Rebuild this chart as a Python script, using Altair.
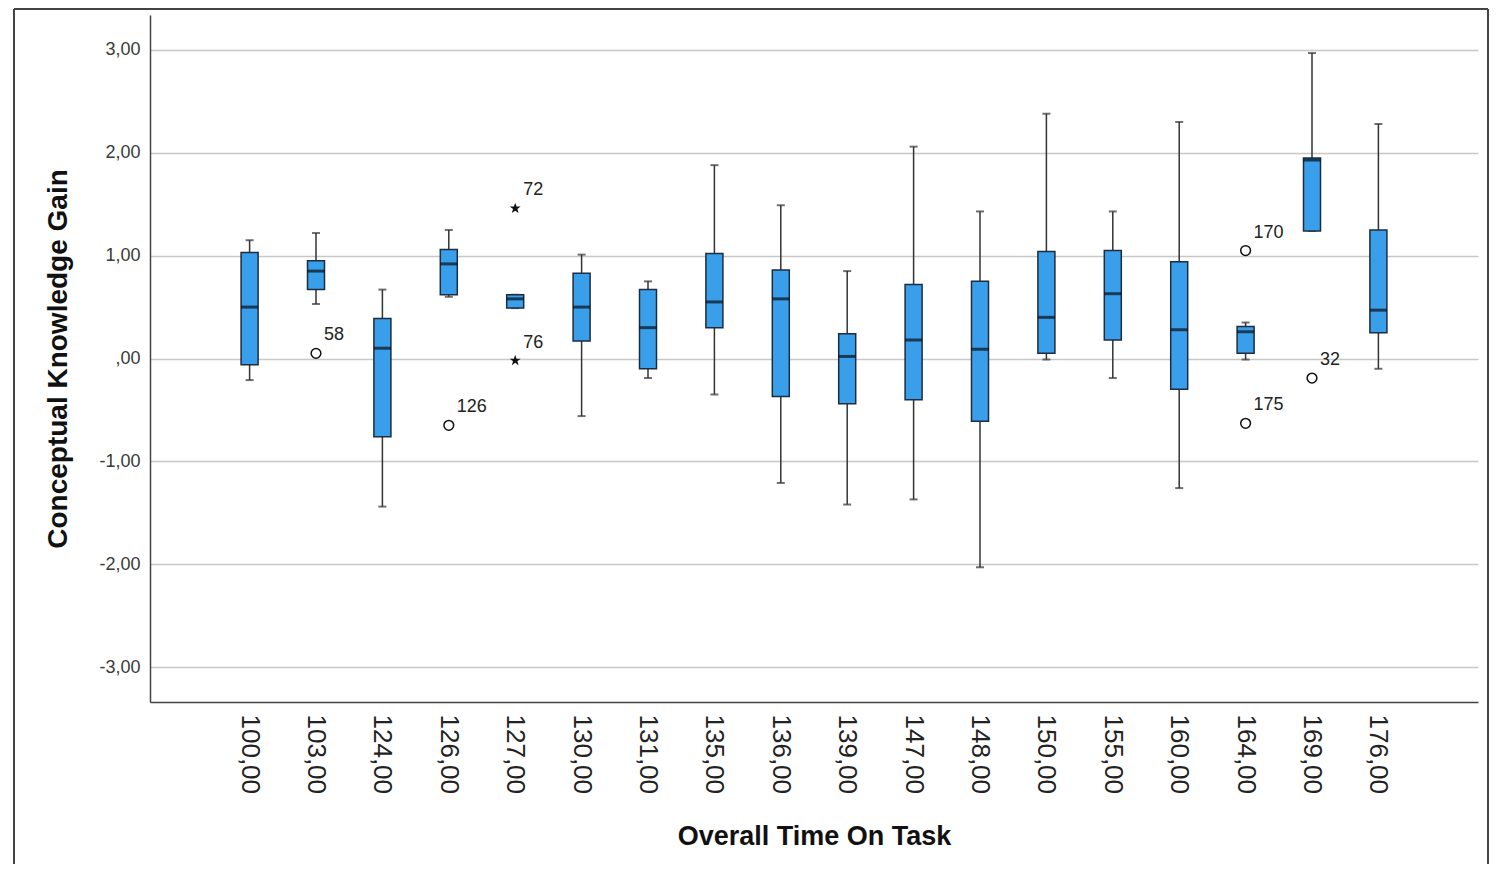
import altair as alt
import pandas as pd

times = ["100,00", "103,00", "124,00", "126,00", "127,00", "130,00", "131,00", "135,00", "136,00",
         "139,00", "147,00", "148,00", "150,00", "155,00", "160,00", "164,00", "169,00", "176,00"]
whisker_low = [-0.21, 0.53, -1.44, 0.60, 0.49, -0.56, -0.19, -0.35, -1.21, -1.42, -1.37, -2.03, -0.01, -0.19, -1.26, -0.01, 1.24, -0.10]
q1 = [-0.06, 0.67, -0.76, 0.62, 0.49, 0.17, -0.10, 0.30, -0.37, -0.44, -0.40, -0.61, 0.05, 0.18, -0.30, 0.05, 1.24, 0.25]
median = [0.50, 0.85, 0.10, 0.92, 0.58, 0.50, 0.30, 0.55, 0.58, 0.02, 0.18, 0.09, 0.40, 0.63, 0.28, 0.26, 1.93, 0.47]
q3 = [1.03, 0.95, 0.39, 1.06, 0.62, 0.83, 0.67, 1.02, 0.86, 0.24, 0.72, 0.75, 1.04, 1.05, 0.94, 0.31, 1.95, 1.25]
whisker_high = [1.15, 1.22, 0.67, 1.25, 0.62, 1.01, 0.75, 1.88, 1.49, 0.85, 2.06, 1.43, 2.38, 1.43, 2.30, 0.35, 2.97, 2.28]

outlier_time = ["103,00", "126,00", "164,00", "164,00", "169,00", "127,00", "127,00"]
outlier_value = [0.05, -0.65, 1.05, -0.63, -0.19, 1.46, -0.02]
outlier_id = ["58", "126", "170", "175", "32", "72", "76"]
outlier_kind = ["circle", "circle", "circle", "circle", "circle", "star", "star"]

y_ticks = [-3, -2, -1, 0, 1, 2, 3]

FONT = "Liberation Sans"
BOX_FILL = "#3a9fea"
BOX_STROKE = "#1e2c40"
LINE = "#333333"

boxes = pd.DataFrame({"time": times, "lo": whisker_low, "q1": q1, "med": median, "q3": q3, "hi": whisker_high})
caps = pd.DataFrame({"time": times + times, "v": whisker_low + whisker_high})
outs = pd.DataFrame({"time": outlier_time, "v": outlier_value, "id": outlier_id, "kind": outlier_kind})

y_scale = alt.Scale(domain=[-3.34, 3.34], nice=False, zero=False)
x_scale = alt.Scale(paddingInner=0, paddingOuter=1)

y_axis = alt.Axis(
    title="Conceptual Knowledge Gain", values=y_ticks,
    labelExpr="datum.value == 0 ? ',00' : (datum.value < 0 ? '-' : '') + toString(abs(datum.value)) + ',00'",
    grid=True, gridColor="#c8c8c8", gridWidth=1.5,
    domainColor="#444444", domainWidth=1.5, ticks=False,
    labelPadding=10, labelFontSize=18, labelColor="#3a3a3a", labelFont=FONT,
    titleFont=FONT, titleFontSize=28, titleFontWeight="bold", titleColor="#111111", titlePadding=26,
)
x_axis = alt.Axis(
    title="Overall Time On Task", labelAngle=90, labelAlign="left", labelBaseline="middle",
    labelFontSize=26, labelPadding=12, labelColor="#222222", labelFont=FONT, ticks=False, grid=False,
    domainColor="#444444", domainWidth=1.5,
    titleFont=FONT, titleFontSize=27, titleFontWeight="bold", titleColor="#111111", titlePadding=30,
)

X = alt.X("time:N", sort=times, scale=x_scale, axis=x_axis)


def Y(field):
    return alt.Y(f"{field}:Q", scale=y_scale, axis=y_axis)


whiskers = alt.Chart(boxes).mark_rule(color=LINE, strokeWidth=1.5).encode(x=X, y=Y("lo"), y2="hi:Q")
cap_marks = alt.Chart(caps).mark_tick(color=LINE, size=8, thickness=2).encode(x=X, y=Y("v"))
box_marks = alt.Chart(boxes).mark_bar(size=17, color=BOX_FILL, fill=BOX_FILL, stroke=BOX_STROKE, strokeWidth=1.5).encode(
    x=X, y=Y("q1"), y2="q3:Q")
med_marks = alt.Chart(boxes).mark_tick(color="#0a0f18", size=17, thickness=3).encode(x=X, y=Y("med"))

circles = alt.Chart(outs).transform_filter("datum.kind == 'circle'").mark_point(
    shape="circle", filled=False, size=95, stroke="#111111", strokeWidth=1.5, opacity=1).encode(x=X, y=Y("v"))
star_path = "M0,-1L0.235,-0.324L0.951,-0.309L0.380,0.124L0.588,0.809L0,0.4L-0.588,0.809L-0.380,0.124L-0.951,-0.309L-0.235,-0.324Z"
stars = alt.Chart(outs).transform_filter("datum.kind == 'star'").mark_point(
    shape=star_path, filled=True, size=130, color="#111111", opacity=1).encode(x=X, y=Y("v"))
labels = alt.Chart(outs).mark_text(align="left", baseline="middle", dx=8, dy=-18, fontSize=18,
                                   font=FONT, color="#222222").encode(x=X, y=Y("v"), text="id:N")

frame_df = pd.DataFrame({"k": [0]})
frame_top = alt.Chart(frame_df).mark_rule(color="#444444", strokeWidth=2).encode(
    x=alt.value(-136), x2=alt.value(1338), y=alt.value(-6))
frame_left = alt.Chart(frame_df).mark_rule(color="#444444", strokeWidth=2).encode(
    x=alt.value(-136), y=alt.value(-6), y2=alt.value(870))
frame_right = alt.Chart(frame_df).mark_rule(color="#444444", strokeWidth=2).encode(
    x=alt.value(1338), y=alt.value(-6), y2=alt.value(870))

chart = alt.layer(
    whiskers, cap_marks, box_marks, med_marks, circles, stars, labels, frame_top, frame_left, frame_right
).properties(
    width=1328, height=687,
    autosize=alt.AutoSizeParams(type="none"),
    padding={"left": 142, "top": 7, "right": 12, "bottom": 162},
    background="white",
).configure_view(strokeWidth=0)

chart.save("out.html", embed_options={"renderer": "svg", "actions": False})
